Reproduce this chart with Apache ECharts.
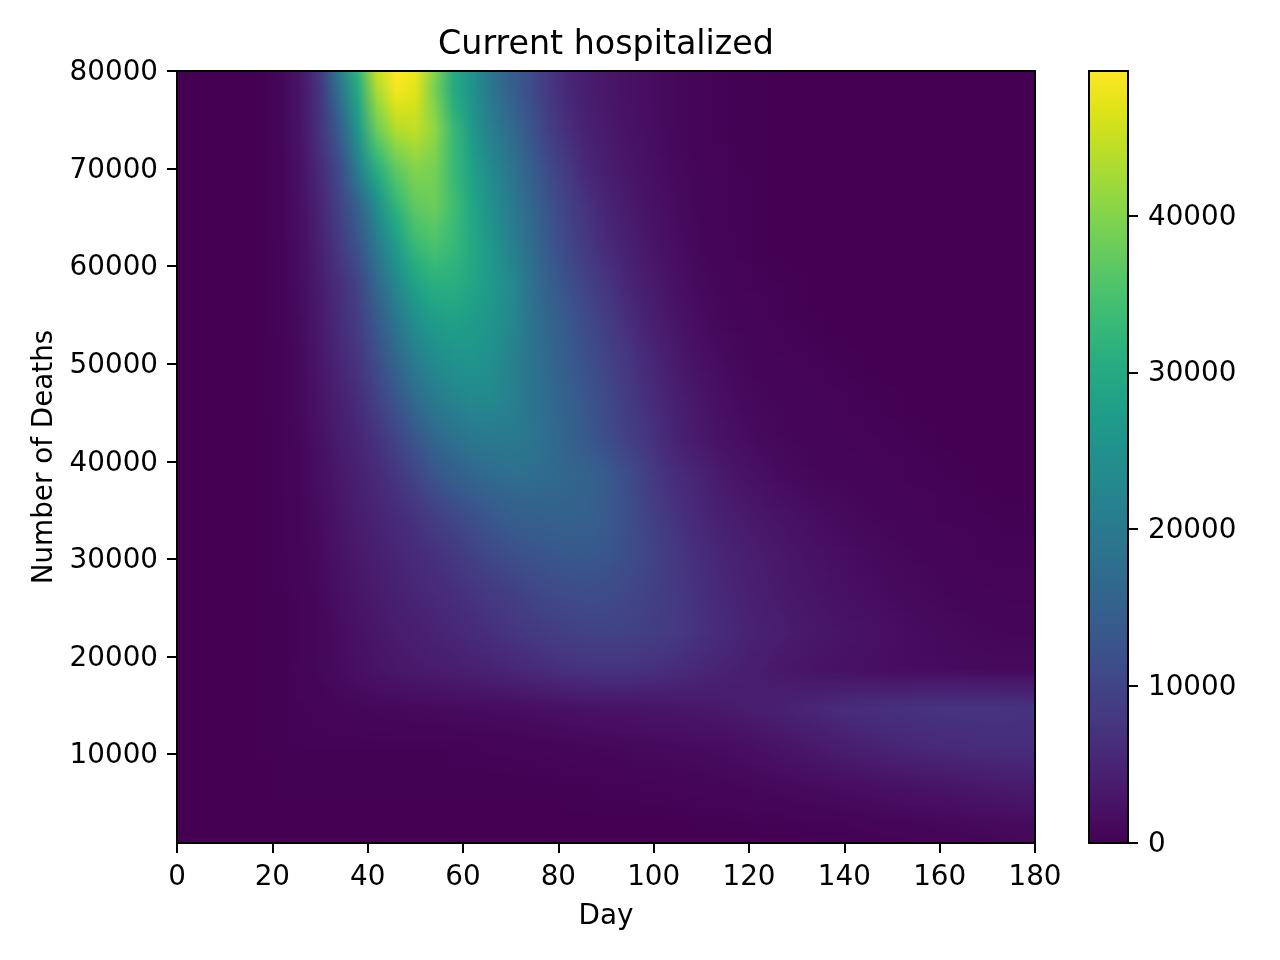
<!DOCTYPE html>
<html>
<head>
<meta charset="utf-8">
<title>Current hospitalized</title>
<script src="https://cdn.jsdelivr.net/npm/echarts@6/dist/echarts.min.js"></script>
<style>
    html, body { margin: 0; background: #fff; }
    #main { width: 1280px; height: 960px; }
</style>
</head>
<body>
<div id="main"></div>
<script>
    // sample positions of the image
    const days = [2,6,10,14,18,22,26,30,34,38,42,46,50,54,58,62,66,70,74,78,82,86,90,94,98,102,106,110,114,118,122,126,130,134,138,142,146,150,154,158,162,166,170,174,178];
    const deaths = [80000,78022,74066,70110,66154,62198,58242,54286,50330,46374,42418,38462,34506,30550,26594,22638,18682,14726,10770,6814,2858,880];

    const dayTicks = [0,20,40,60,80,100,120,140,160,180];
    const deathTicks = [10000,20000,30000,40000,50000,60000,70000,80000];
    const colorTicks = [0,10000,20000,30000,40000];

    // current hospitalized in thousands, estimated from the colours, top row first
    const hospitalizedK = [
        [0,0,0,0,.2,.9,3,8,20,32,45,49.2,48,40,30,25,19,15,11.5,8,5.5,4,3,2.3,1.8,1.2,.8,.5,.3,.2,.1,0,0,0,0,0,0,0,0,0,0,0,0,0,0],
        [0,0,0,0,.2,.8,2.8,7.5,18,30,43,48.5,47,39,30,25,19,15,11.5,8,5.5,4,3,2.3,1.8,1.2,.8,.5,.3,.2,.1,0,0,0,0,0,0,0,0,0,0,0,0,0,0],
        [0,0,0,0,.2,.8,2.6,7,14,26,38,43.5,44.5,41,33,26,21,17,13,9,6.5,4.5,3.5,2.5,1.9,1.3,.8,.5,.3,.2,.1,0,0,0,0,0,0,0,0,0,0,0,0,0,0],
        [0,0,0,0,.2,.7,2.3,6,11,21,31,37,40,39,33,28,23,19,15,11,8,5.5,4,3,2.2,1.5,1,.6,.4,.2,.1,0,0,0,0,0,0,0,0,0,0,0,0,0,0],
        [0,0,0,0,.2,.7,2,5,9.5,15,24,32,37,38,34,29,24.5,20.5,16.5,12.5,9.5,7,5,3.7,2.6,1.8,1.1,.7,.4,.3,.1,0,0,0,0,0,0,0,0,0,0,0,0,0,0],
        [0,0,0,0,.2,.6,1.8,4.5,8,12.5,20,27,33,35,33,29.5,26,21.5,17.5,13.5,10.5,8,6,4.5,3.2,2.2,1.4,.8,.5,.3,.1,0,0,0,0,0,0,0,0,0,0,0,0,0,0],
        [0,0,0,0,.2,.6,1.6,3.8,6.5,10,16.5,23,28.5,31,31,29,26.5,23.5,18.5,15,12,9.5,7.5,5.5,4,2.8,1.8,1.1,.7,.4,.3,.2,.1,0,0,0,0,0,0,0,0,0,0,0,0],
        [0,0,0,0,.1,.5,1.4,3.3,6,8.8,13.5,19,24,27,28,27,25.5,23,19,16,13.5,11,8.8,6.8,5,3.5,2.3,1.5,.9,.7,.5,.3,.2,.1,0,0,0,0,0,0,0,0,0,0,0],
        [0,0,0,0,.1,.4,1.2,3,5.2,7.5,11.5,16,20.5,23.5,25,25.5,24.5,21.5,19,16.5,14,12,10,8,6,4.5,3,2.1,1.4,.9,.6,.5,.4,.3,.2,.1,0,0,0,0,0,0,0,0,0],
        [0,0,0,0,.1,.4,1.1,2.6,4.4,6.2,9.5,13,17,20,22,23,23,21.5,19,17,15,13,10.8,8.8,6.8,5.2,3.8,2.7,1.9,1.3,.9,.7,.6,.5,.4,.3,.2,.1,0,0,0,0,0,0,0],
        [0,0,0,0,.1,.3,.9,2.1,3.7,5.2,7,10,13,16,18,19.5,20,20,19.2,17,15.5,13.5,11.5,9.5,7.8,6,4.3,3.2,2.3,1.7,1.2,.9,.7,.6,.5,.4,.35,.3,.2,.1,0,0,0,0,0],
        [0,0,0,0,.1,.3,.8,1.8,3.1,4.4,5.8,7.5,10,12.5,14.5,16,17,17.5,17.5,17,16.2,15.5,14,11.8,9.5,7.2,5.8,4.8,3.5,2.6,2,1.4,1.1,.8,.7,.6,.5,.4,.3,.3,.2,.1,0,0,0],
        [0,0,0,0,.1,.3,.7,1.5,2.7,3.9,5,6,7.2,9,10.5,12,13.5,14.5,15,15.2,15.3,15,14,12,10,8.2,6.6,5.3,4.4,3.6,3,2.5,2,1.6,1.3,1,.8,.7,.5,.4,.3,.3,.2,.1,.1],
        [0,0,0,0,.1,.3,.6,1.2,2.3,3.3,4.2,5.1,6,6.8,7.8,9.5,10.8,11.8,12.6,13,13.4,13.5,13,11.8,10.5,9,7.5,6.2,5.2,4.5,3.8,3.2,2.7,2.2,1.8,1.5,1.2,1,.8,.7,.5,.4,.3,.3,.3],
        [0,0,0,0,.1,.2,.5,1,1.9,2.8,3.6,4.4,5.2,5.8,6.5,7.3,8.2,9,10,10.8,11.3,11.5,11.3,10.6,9.8,8.8,7.7,6.6,5.6,4.8,4.1,3.5,3,2.6,2.2,1.9,1.6,1.3,1.1,.9,.7,.6,.5,.4,.4],
        [0,0,0,0,.1,.2,.4,.9,1.5,2.3,3,3.7,4.2,4.8,5.4,6,6.7,7.4,8.1,8.7,9.2,9.7,9.8,9.6,9.2,8.6,7.8,6.9,6,5.2,4.5,4,3.5,3.1,2.7,2.4,2.1,1.8,1.5,1.3,1.1,.9,.8,.7,.7],
        [0,0,0,0,.1,.2,.5,.9,1.4,2,2.5,3,3.4,3.7,4,4.4,4.8,5.3,5.8,6.3,6.8,7.1,7.2,7.2,6.9,6.5,6,5.4,4.9,4.3,3.7,3.2,2.8,2.4,2.2,2,1.8,1.6,1.5,1.5,1.4,1.3,1.2,1.2,1.2],
        [0,0,0,0,.1,.2,.3,.5,.7,.8,.9,1,1.1,1.2,1.3,1.4,1.5,1.6,1.8,1.9,2.1,2.3,2.4,2.5,2.6,2.7,2.9,3.1,3.3,3.6,4,4.4,4.9,5.4,5.9,6.3,6.6,6.8,7,7.2,7.3,7.3,7.3,7.2,7.1],
        [0,0,0,0,.1,.1,.2,.2,.2,.2,.2,.2,.2,.2,.3,.3,.4,.4,.5,.6,.7,.8,.9,1,1.1,1.2,1.3,1.4,1.5,1.8,2.1,2.5,2.9,3.3,3.8,4.2,4.6,5,5.3,5.6,5.8,6,6.2,6.3,6.3],
        [0,0,0,0,0,.1,.1,.1,.1,.1,.1,.1,.1,.1,.1,.1,.1,.1,.1,.1,.2,.2,.3,.3,.4,.4,.5,.6,.7,.8,1,1.1,1.3,1.4,1.6,1.8,2,2.2,2.4,2.6,2.8,3,3.3,3.5,3.7],
        [0,0,0,0,0,0,0,0,0,0,0,0,0,0,0,0,0,0,0,0,0,0,0,0,0,0,0,.1,.1,.1,.2,.2,.2,.3,.3,.4,.5,.6,.7,.8,.9,1,1.1,1.2,1.3],
        [0,0,0,0,0,0,0,0,0,0,0,0,0,0,0,0,0,0,0,0,0,0,0,0,0,0,0,0,0,0,0,0,0,0,.1,.1,.2,.2,.3,.4,.5,.6,.7,.8,.9]
    ];

    const viridis = ['#440154','#481467','#482576','#453781','#404688','#39568c','#33638d','#2d718e','#287d8e','#238a8d','#1f968b','#20a386','#29af7f','#3dbc74','#56c667','#75d054','#95d840','#bade28','#dde318','#fde725'];
    const COLOR_MAX = 49200;

    const FONT = 'DejaVu Sans';
    const black = '#000';

    // shared look of the frame lines and ticks
    function frameAxis(extra) {
        return Object.assign({
            type: 'value',
            z: 10,
            splitLine: {show: false},
            axisLine: {show: true, onZero: false, lineStyle: {color: black, width: 2}},
            axisTick: {show: false},
            axisLabel: {show: false}
        }, extra);
    }
    function ticked(values, margin, labelExtra) {
        return {
            axisTick: {show: true, length: 10, customValues: values, lineStyle: {color: black, width: 2}},
            axisLabel: Object.assign({
                show: true, customValues: values, margin: margin,
                formatter: v => String(v),
                color: black, fontSize: 27.8, fontFamily: FONT
            }, labelExtra)
        };
    }
    // y labels sit a little under the tick, like matplotlib's baseline centring
    const yLabel = {verticalAlign: 'top', lineHeight: 4};

    // smooth shading like the original image: each data row is painted down to the next one
    function renderRow(params, api) {
        const r = params.dataIndex;
        if (r === deaths.length - 1) return null;
        const left = api.coord([0, deaths[r]])[0];
        const right = api.coord([180, deaths[r]])[0];
        const top = Math.round(api.coord([0, deaths[r]])[1]);
        const bottom = Math.round(api.coord([0, deaths[r + 1]])[1]);
        const children = [];
        for (let y = top; y < bottom; y++) {
            const t = (y - top) / (bottom - top);
            const stops = days.map((d, c) => {
                const v = hospitalizedK[r][c] * (1 - t) + hospitalizedK[r + 1][c] * t;
                return {offset: d / 180, color: echarts.color.lerp(Math.min(v * 1000 / COLOR_MAX, 1), viridis)};
            });
            children.push({
                type: 'rect',
                shape: {x: left, y: y, width: right - left, height: 1},
                style: {fill: new echarts.graphic.LinearGradient(0, 0, 1, 0, stops)},
                silent: true
            });
        }
        return {type: 'group', children: children};
    }

    const myChart = echarts.init(document.getElementById('main'), null, {renderer: 'canvas'});
    const option = {
        animation: false,
        backgroundColor: '#fff',
        title: {
            text: 'Current hospitalized',
            left: 606,
            top: 29,
            padding: 0,
            textAlign: 'center',
            textStyle: {color: black, fontSize: 33.3, fontWeight: 'normal', fontFamily: FONT}
        },
        grid: [
            {left: 177, top: 71, width: 858, height: 772},
            {left: 1089, top: 71, width: 39, height: 772}
        ],
        xAxis: [
            frameAxis(Object.assign({
                gridIndex: 0, position: 'bottom', min: 0, max: 180,
                name: 'Day', nameLocation: 'middle', nameGap: 60,
                nameTextStyle: {color: black, fontSize: 27.8, fontFamily: FONT}
            }, ticked(dayTicks, 21))),
            frameAxis({gridIndex: 0, position: 'top', min: 0, max: 180}),
            frameAxis({gridIndex: 1, position: 'bottom', min: 0, max: 1}),
            frameAxis({gridIndex: 1, position: 'top', min: 0, max: 1})
        ],
        yAxis: [
            frameAxis(Object.assign({
                gridIndex: 0, position: 'left', min: 880, max: 80000,
                name: 'Number of Deaths', nameLocation: 'middle', nameGap: 115,
                nameTextStyle: {color: black, fontSize: 27.8, fontFamily: FONT}
            }, ticked(deathTicks, 19, yLabel))),
            frameAxis({gridIndex: 0, position: 'right', min: 880, max: 80000}),
            frameAxis({gridIndex: 1, position: 'left', min: 0, max: COLOR_MAX}),
            frameAxis(Object.assign({gridIndex: 1, position: 'right', min: 0, max: COLOR_MAX}, ticked(colorTicks, 20, yLabel)))
        ],
        visualMap: {
            type: 'continuous',
            seriesIndex: 0,
            min: 0,
            max: COLOR_MAX,
            left: 1089,
            top: 71,
            padding: 0,
            itemWidth: 39,
            itemHeight: 772,
            calculable: false,
            realtime: false,
            hoverLink: false,
            text: ['', ''],
            textGap: 0,
            inRange: {color: viridis}
        },
        series: [
            {
                type: 'custom',
                xAxisIndex: 0,
                yAxisIndex: 0,
                coordinateSystem: 'cartesian2d',
                data: deaths.map(d => [0, d]),
                encode: {x: 0, y: 1},
                renderItem: renderRow,
                silent: true
            }
        ]
    };
    myChart.setOption(option);
</script>
</body>
</html>
